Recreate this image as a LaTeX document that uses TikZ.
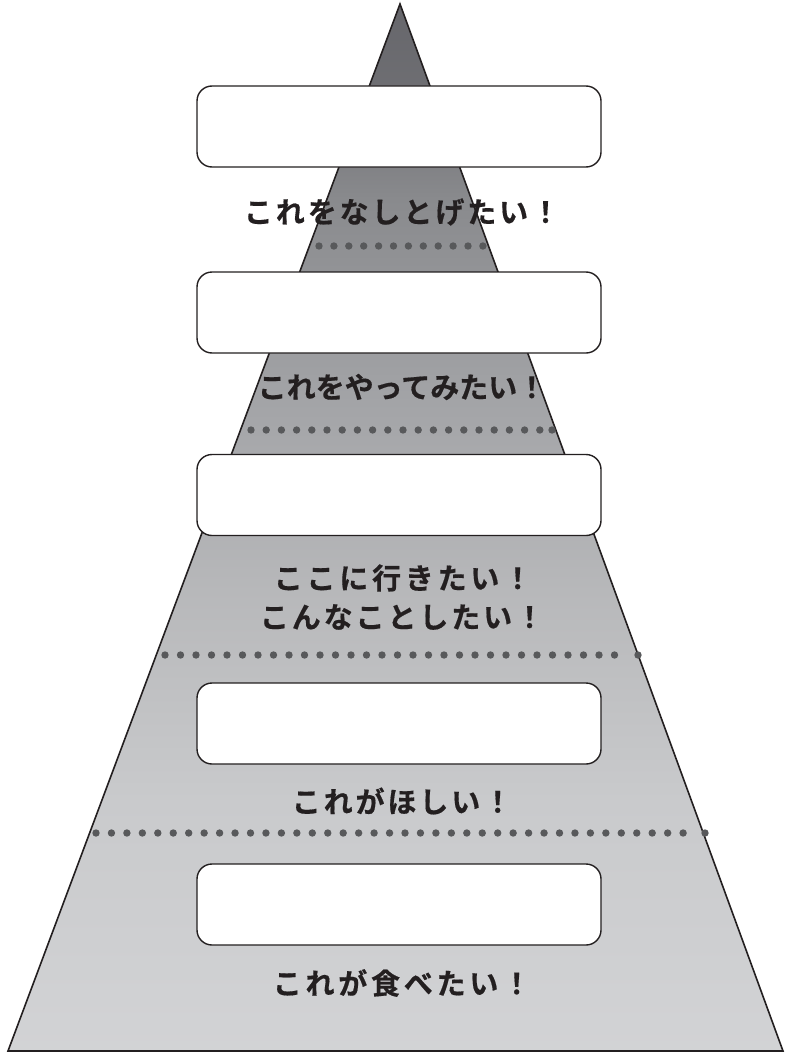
\documentclass[tikz,border=0pt]{standalone}
\usepackage{fontspec}
\newfontfamily\jpA{Noto Sans CJK JP}[UprightFont=* Bold, LetterSpace=10, FakeBold=0.5]
\newfontfamily\jpB{Noto Sans CJK JP}[UprightFont=* Bold, LetterSpace=0, FakeBold=0.5]
\newfontfamily\jpC{Noto Sans CJK JP}[UprightFont=* Bold, LetterSpace=13, FakeBold=0.5]
\definecolor{ink}{HTML}{231F20}
\definecolor{dotc}{HTML}{58595B}
\pgfdeclareverticalshading{pyr}{100bp}{rgb(0bp)=(.824,.827,.835); rgb(25bp)=(.824,.827,.835); rgb(37bp)=(.788,.792,.800); rgb(46.5bp)=(.722,.725,.733); rgb(56bp)=(.639,.643,.655); rgb(65.7bp)=(.537,.541,.553); rgb(71.2bp)=(.43,.431,.447); rgb(75bp)=(.40,.40,.42); rgb(100bp)=(.40,.40,.42)}
\begin{document}
\begin{tikzpicture}[x=1pt,y=-1pt,
  wbox/.style={draw=ink, fill=white, line width=1.4pt, rounded corners=15pt, minimum width=404pt, minimum height=81pt, inner sep=0pt},
  lbl/.style={text=ink, font=\jpA\fontsize{29}{33}\selectfont, inner sep=0pt},
  lblB/.style={text=ink, font=\jpB\fontsize{29}{33}\selectfont, inner sep=0pt},
  lblC/.style={text=ink, font=\jpC\fontsize{29}{33}\selectfont, inner sep=0pt},
  dot/.style={fill=dotc, draw=none}]
\useasboundingbox (0,0) rectangle (785,1054);
\coordinate (apex) at (400,4);
\coordinate (bl) at (8,1051);
\coordinate (br) at (783,1051);
\shade[shading=pyr] (apex) -- (br) -- (bl) -- cycle;
\draw[ink, line width=1.6pt, line join=miter] (apex) -- (br) -- (bl) -- cycle;
% dotted rows
\foreach \i in {0,...,11} \fill[dot] (319+\i*14.9,246) circle (3.7pt);
\foreach \i in {0,...,19} \fill[dot] (251+\i*15.2,430) circle (3.7pt);
\fill[dot] (552,430) circle (3.7pt);
\foreach \i in {0,...,29} \fill[dot] (165+\i*15.5,655) circle (3.7pt);
\fill[dot] (638,655) circle (3.7pt);
\foreach \i in {0,...,38} \fill[dot] (96+\i*15.45,833) circle (3.7pt);
\fill[dot] (705,833) circle (3.7pt);
% boxes
\node[wbox] (b1) at (399,126.5) {};
\node[wbox] (b2) at (399,312.5) {};
\node[wbox] (b3) at (399,495) {};
\node[wbox] (b4) at (399,723.5) {};
\node[wbox] (b5) at (399,904.5) {};
% labels
\node[lbl] (t1) at (402,212) {これをなしとげたい！};
\node[lblB] (t2) at (402,387) {これをやってみたい！};
\node[lblC] (t3) at (403,578) {ここに行きたい！};
\node[lbl] (t3b) at (402,617) {こんなことしたい！};
\node[lbl] (t4) at (402,801) {これがほしい！};
\node[lblC] (t5) at (402,983) {これが食べたい！};
\end{tikzpicture}
\end{document}
